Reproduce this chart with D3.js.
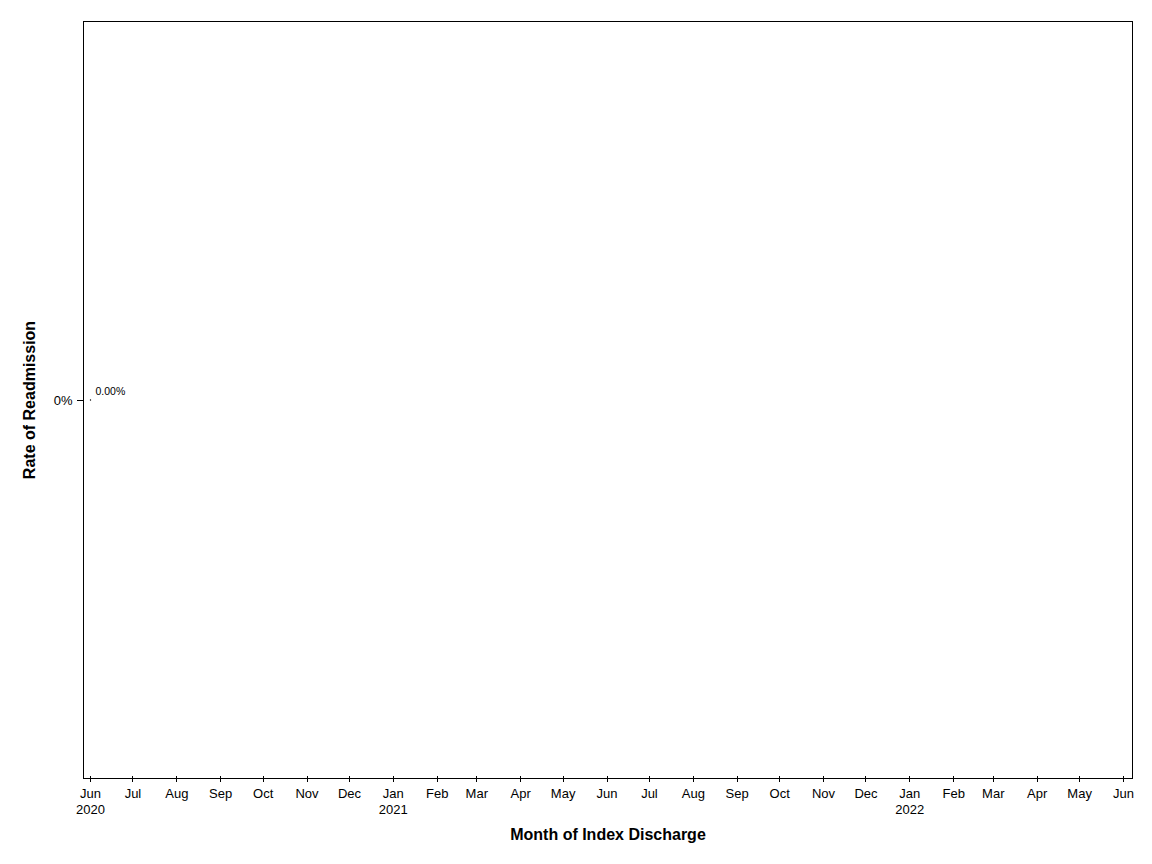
<!DOCTYPE html>
<html>
<head>
<meta charset="utf-8">
<script src="https://cdn.jsdelivr.net/npm/d3@7"></script>
<style>
  body { margin: 0; background: #fff; }
  text { font-family: "Liberation Sans", Arial, sans-serif; }
</style>
</head>
<body>
<div id="chart"></div>
<script>
// Data: one monthly point (Jun 2020)
const months = ['2020-06-01'];
const rates = [0];
const pointLabels = ['0.00%'];
const yTicks = [0];

const W = 1152, H = 864;
const frame = { left: 83.5, right: 1132.5, top: 21.5, bottom: 778.5 };

const parse = d3.timeParse('%Y-%m-%d');

const x = d3.scaleTime()
  .domain([parse('2020-06-01'), parse('2022-06-01')])
  .range([90.5, 1123.5]);

const y = d3.scaleLinear()
  .domain([-1, 1])
  .range([frame.bottom, frame.top]);

const svg = d3.select('#chart').append('svg')
  .attr('width', W)
  .attr('height', H);

// frame
svg.append('rect')
  .attr('x', frame.left)
  .attr('y', frame.top)
  .attr('width', frame.right - frame.left)
  .attr('height', frame.bottom - frame.top)
  .attr('fill', 'none')
  .attr('stroke', '#000')
  .attr('stroke-width', 1)
  .attr('shape-rendering', 'crispEdges');

// x axis: monthly ticks crossing the bottom line
const monthTicks = d3.timeMonth.range(parse('2020-06-01'), d3.timeDay.offset(parse('2022-06-01'), 1));
const xg = svg.append('g').attr('transform', 'translate(0,' + frame.bottom + ')');
xg.selectAll('line.tick')
  .data(monthTicks)
  .enter().append('line')
  .attr('class', 'tick')
  .attr('x1', d => Math.round(x(d) - 0.5) + 0.5).attr('x2', d => Math.round(x(d) - 0.5) + 0.5)
  .attr('y1', -3).attr('y2', 3)
  .attr('stroke', '#000')
  .attr('shape-rendering', 'crispEdges');

xg.selectAll('text.month')
  .data(monthTicks)
  .enter().append('text')
  .attr('class', 'month')
  .attr('x', d => x(d))
  .attr('y', 19)
  .attr('text-anchor', 'middle')
  .attr('font-size', 13)
  .text(d3.timeFormat('%b'));

xg.selectAll('text.year')
  .data(monthTicks.filter((d, i) => i === 0 || d.getMonth() === 0))
  .enter().append('text')
  .attr('class', 'year')
  .attr('x', d => x(d))
  .attr('y', 35)
  .attr('text-anchor', 'middle')
  .attr('font-size', 13)
  .text(d3.timeFormat('%Y'));

// y axis
const yg = svg.append('g');
yg.selectAll('line')
  .data(yTicks)
  .enter().append('line')
  .attr('x1', frame.left - 7).attr('x2', frame.left)
  .attr('y1', d => Math.round(y(d) - 0.5) + 0.5).attr('y2', d => Math.round(y(d) - 0.5) + 0.5)
  .attr('stroke', '#000')
  .attr('shape-rendering', 'crispEdges');
yg.selectAll('text')
  .data(yTicks)
  .enter().append('text')
  .attr('x', frame.left - 11)
  .attr('y', d => y(d))
  .attr('dy', '0.35em')
  .attr('text-anchor', 'end')
  .attr('font-size', 13)
  .text(d => d3.format('.0%')(d));

// titles
svg.append('text')
  .attr('x', (frame.left + frame.right) / 2)
  .attr('y', 840)
  .attr('text-anchor', 'middle')
  .attr('font-size', 16)
  .attr('font-weight', 'bold')
  .text('Month of Index Discharge');

svg.append('text')
  .attr('transform', 'translate(35,' + ((frame.top + frame.bottom) / 2) + ') rotate(-90)')
  .attr('text-anchor', 'middle')
  .attr('font-size', 16)
  .attr('font-weight', 'bold')
  .text('Rate of Readmission');

// points + labels
const pts = months.map((m, i) => ({ date: parse(m), value: rates[i], label: pointLabels[i] }));
svg.selectAll('circle.pt')
  .data(pts)
  .enter().append('circle')
  .attr('class', 'pt')
  .attr('cx', d => x(d.date))
  .attr('cy', d => y(d.value))
  .attr('r', 0.7)
  .attr('fill', '#000');

svg.selectAll('text.pt-label')
  .data(pts)
  .enter().append('text')
  .attr('class', 'pt-label')
  .attr('x', d => x(d.date) + 5)
  .attr('y', d => y(d.value) - 5)
  .attr('font-size', 10.5)
  .text(d => d.label);
</script>
</body>
</html>
